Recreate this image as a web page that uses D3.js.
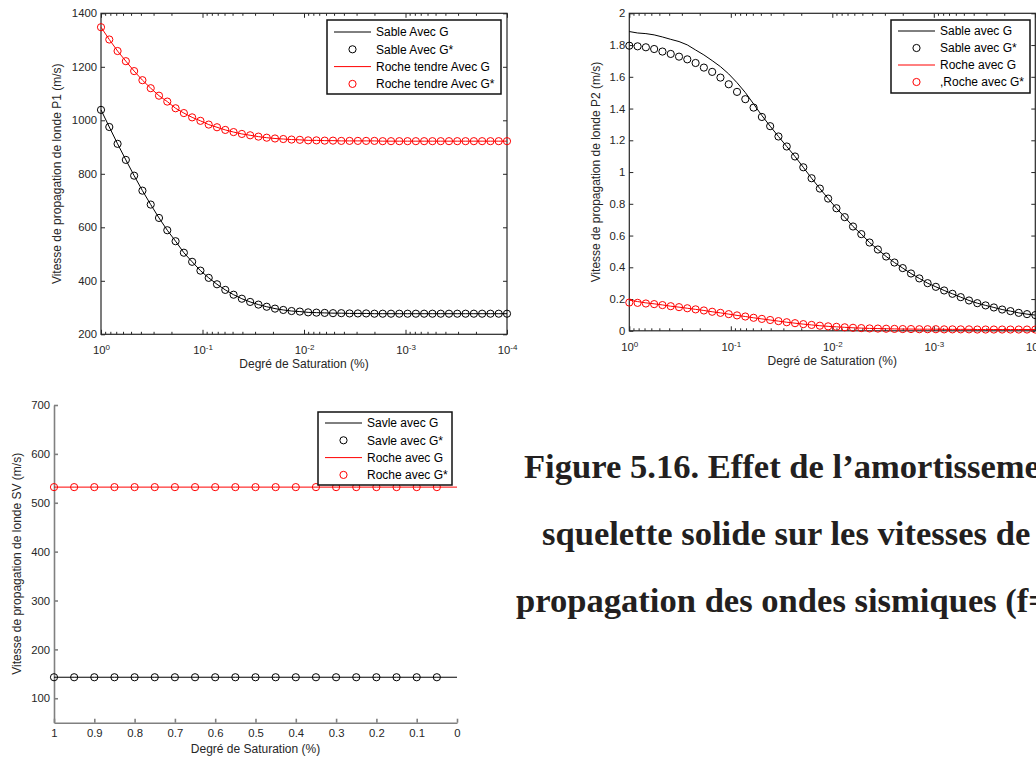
<!DOCTYPE html>
<html>
<head>
<meta charset="utf-8">
<script src="https://cdn.jsdelivr.net/npm/d3@7"></script>
<style>
  body { margin: 0; background: #fff; }
  svg { display: block; font-family: "Liberation Sans", Arial, sans-serif; }
  .ax path, .ax line { stroke: #262626; }
  .ax text { fill: #262626; font-size: 11.3px; }
  .gray path, .gray line { stroke: #808080; stroke-width: 1.6; }
  .lbl { fill: #262626; font-size: 12px; }
</style>
</head>
<body>
<svg id="fig" width="1036" height="760"></svg>
<script>
/** DATA **/
// Degré de saturation (log-spaced, 1 -> 1e-4), shared by the two top panels
const satLog = [1, 0.8286, 0.6866, 0.5690, 0.4715, 0.3907, 0.3237, 0.2683, 0.2223, 0.1842,
  0.1526, 0.1265, 0.1048, 0.08685, 0.07197, 0.05964, 0.04942, 0.04095, 0.03393, 0.02812,
  0.02330, 0.01931, 0.01600, 0.01326, 0.01099, 0.009103, 0.007543, 0.006251, 0.005180, 0.004292,
  0.003556, 0.002947, 0.002442, 0.002024, 0.001677, 0.001389, 0.001151, 0.0009541, 0.0007906, 0.0006551,
  0.0005429, 0.0004498, 0.0003728, 0.0003089, 0.0002560, 0.0002121, 0.0001758, 0.0001456, 0.0001207, 0.0001];
const decades = [1, 0.1, 0.01, 0.001, 0.0001];
const decadeExp = ['0', '-1', '-2', '-3', '-4'];
const minorMult = [2, 3, 4, 5, 6, 7, 8, 9];

// Onde P1
const p1Roche = [1348, 1302, 1259, 1221, 1184, 1150, 1120, 1092, 1070, 1045,
  1027, 1011, 998, 984, 974, 964, 956, 949, 944, 939,
  935, 932, 930, 928, 927, 925, 925, 924, 924, 923,
  923, 923, 923, 923, 922, 922, 922, 922, 922, 922,
  922, 922, 922, 922, 922, 922, 922, 922, 922, 922];
const p1Sable = [1039, 975, 912, 852, 793, 737, 685, 635, 589, 548,
  505, 471, 438, 411, 387, 366, 348, 333, 321, 311,
  303, 296, 291, 287, 285, 282, 281, 280, 279, 279,
  278, 278, 278, 277, 277, 277, 277, 277, 277, 277,
  277, 277, 277, 277, 277, 277, 277, 277, 277, 277];
const p1Ticks = [200, 400, 600, 800, 1000, 1200, 1400];

// Onde P2
const p2SableG = [1.885, 1.876, 1.872, 1.864, 1.851, 1.836, 1.822, 1.801, 1.769, 1.738,
  1.702, 1.664, 1.618, 1.563, 1.501, 1.429, 1.356, 1.289, 1.224, 1.161,
  1.098, 1.030, 0.961, 0.896, 0.833, 0.772, 0.716, 0.657, 0.609, 0.556,
  0.512, 0.468, 0.430, 0.395, 0.361, 0.330, 0.300, 0.277, 0.254, 0.233,
  0.212, 0.191, 0.174, 0.160, 0.147, 0.134, 0.124, 0.113, 0.105, 0.099];
const p2SableGs = [1.796, 1.792, 1.786, 1.775, 1.759, 1.744, 1.727, 1.710, 1.687, 1.658,
  1.631, 1.595, 1.553, 1.505, 1.459, 1.406, 1.347, 1.289, 1.224, 1.161,
  1.098, 1.030, 0.961, 0.896, 0.833, 0.772, 0.716, 0.657, 0.609, 0.556,
  0.512, 0.468, 0.430, 0.395, 0.361, 0.330, 0.300, 0.277, 0.254, 0.233,
  0.212, 0.191, 0.174, 0.160, 0.147, 0.134, 0.124, 0.113, 0.105, 0.099];
const p2RocheG = [0.193, 0.184, 0.176, 0.170, 0.163, 0.155, 0.149, 0.142, 0.135, 0.128,
  0.120, 0.113, 0.105, 0.097, 0.090, 0.082, 0.075, 0.068, 0.061, 0.054,
  0.048, 0.042, 0.037, 0.032, 0.028, 0.025, 0.022, 0.019, 0.017, 0.015,
  0.014, 0.013, 0.012, 0.011, 0.011, 0.010, 0.010, 0.010, 0.009, 0.009,
  0.009, 0.009, 0.008, 0.008, 0.008, 0.008, 0.008, 0.008, 0.008, 0.008];
const p2RocheGs = [0.178, 0.176, 0.172, 0.168, 0.162, 0.155, 0.149, 0.142, 0.135, 0.128,
  0.120, 0.113, 0.105, 0.097, 0.090, 0.082, 0.075, 0.068, 0.061, 0.054,
  0.048, 0.042, 0.037, 0.032, 0.028, 0.025, 0.022, 0.019, 0.017, 0.015,
  0.014, 0.013, 0.012, 0.011, 0.011, 0.010, 0.010, 0.010, 0.009, 0.009,
  0.009, 0.009, 0.008, 0.008, 0.008, 0.008, 0.008, 0.008, 0.008, 0.008];
const p2Ticks = [0, 0.2, 0.4, 0.6, 0.8, 1, 1.2, 1.4, 1.6, 1.8, 2];

// Onde SV (linear saturation axis)
const satLin = [1, 0.95, 0.9, 0.85, 0.8, 0.75, 0.7, 0.65, 0.6, 0.55,
  0.5, 0.45, 0.4, 0.35, 0.3, 0.25, 0.2, 0.15, 0.1, 0.05, 0];
const svRoche = [532, 532, 532, 532, 532, 532, 532, 532, 532, 532,
  532, 532, 532, 532, 532, 532, 532, 532, 532, 532, 532];
const svSable = [143, 143, 143, 143, 143, 143, 143, 143, 143, 143,
  143, 143, 143, 143, 143, 143, 143, 143, 143, 143, 143];
const svMarkerCount = 20; // markers stop at 0.05, lines run to 0
const svTicksY = [100, 200, 300, 400, 500, 600, 700];
const svTicksX = [1, 0.9, 0.8, 0.7, 0.6, 0.5, 0.4, 0.3, 0.2, 0.1, 0];

const caption = [
  'Figure 5.16. Effet de l\u2019amortissement du',
  'squelette solide sur les vitesses de',
  'propagation des ondes sismiques (f='
];

const RED = '#ff0000';
const BLACK = '#000000';

const svg = d3.select('#fig');
svg.append('rect').attr('width', 1036).attr('height', 760).attr('fill', '#fff');

/** helpers **/
function drawSeries (g, x, y, xs, line, markers, color, nMarkers) {
  const pts = line.map((v, i) => [xs[i], v]);
  g.append('path')
    .datum(pts)
    .attr('fill', 'none')
    .attr('stroke', color)
    .attr('stroke-width', 1)
    .attr('d', d3.line().x(d => x(d[0])).y(d => y(d[1])));

  const mk = markers.slice(0, nMarkers || markers.length).map((v, i) => [xs[i], v]);
  g.selectAll(null)
    .data(mk)
    .enter().append('circle')
    .attr('cx', d => x(d[0]))
    .attr('cy', d => y(d[1]))
    .attr('r', 3.6)
    .attr('fill', 'none')
    .attr('stroke', color)
    .attr('stroke-width', 1);
}

function drawLegend (box, entries) {
  const g = svg.append('g');
  g.append('rect')
    .attr('x', box.x).attr('y', box.y)
    .attr('width', box.w).attr('height', box.h)
    .attr('fill', '#fff')
    .attr('stroke', '#111')
    .attr('stroke-width', 1.5);
  entries.forEach((e, i) => {
    const cy = box.row0 + i * box.step;
    if (e.kind === 'line') {
      g.append('line')
        .attr('x1', box.x + 7).attr('x2', box.x + 44)
        .attr('y1', cy).attr('y2', cy)
        .attr('stroke', e.color).attr('stroke-width', 1);
    } else {
      g.append('circle')
        .attr('cx', box.x + 25.5).attr('cy', cy).attr('r', 3.6)
        .attr('fill', 'none').attr('stroke', e.color);
    }
    g.append('text')
      .attr('x', box.x + 49).attr('y', cy + 4.3)
      .attr('font-size', '12px')
      .attr('fill', '#000')
      .text(e.label);
  });
}

function drawLogPanel (p) {
  const x = d3.scaleLog().domain([1, 0.0001]).range([p.x0, p.x1]);
  const y = d3.scaleLinear().domain(p.yDomain).range([p.yb, p.yt]);
  const g = svg.append('g');

  // axes box
  g.append('rect')
    .attr('x', p.x0).attr('y', p.yt)
    .attr('width', p.x1 - p.x0).attr('height', p.yb - p.yt)
    .attr('fill', 'none').attr('stroke', '#262626').attr('stroke-width', 1.2);

  // y ticks, left with labels and right without
  const yl = g.append('g').attr('class', 'ax')
    .attr('transform', `translate(${p.x0},0)`)
    .call(d3.axisLeft(y).tickValues(p.yTicks).tickSizeInner(-4).tickSizeOuter(0)
      .tickPadding(4).tickFormat(d3.format('~g')));
  yl.select('.domain').remove();
  const yr = g.append('g').attr('class', 'ax')
    .attr('transform', `translate(${p.x1},0)`)
    .call(d3.axisRight(y).tickValues(p.yTicks).tickSizeInner(-4).tickSizeOuter(0).tickFormat(''));
  yr.select('.domain').remove();

  // x decades, 10^n labels
  const xb = g.append('g').attr('class', 'ax')
    .attr('transform', `translate(0,${p.yb})`)
    .call(d3.axisBottom(x).tickValues(decades).tickSizeInner(-4.5).tickSizeOuter(0).tickPadding(12));
  xb.select('.domain').remove();
  xb.selectAll('.tick text').each(function (d, i) {
    const t = d3.select(this);
    t.text('10');
    t.append('tspan').attr('dy', '-0.5em').attr('font-size', '8px').text(decadeExp[i]);
  });
  const xt = g.append('g').attr('class', 'ax')
    .attr('transform', `translate(0,${p.yt})`)
    .call(d3.axisTop(x).tickValues(decades).tickSizeInner(-4.5).tickSizeOuter(0).tickFormat(''));
  xt.select('.domain').remove();

  // minor log ticks top and bottom
  const minors = [];
  decades.slice(1).forEach(dec => minorMult.forEach(m => minors.push(m * dec)));
  [[p.yb, -2.5], [p.yt, 2.5]].forEach(([y0, len]) => {
    g.selectAll(null).data(minors).enter().append('line')
      .attr('x1', d => x(d)).attr('x2', d => x(d))
      .attr('y1', y0).attr('y2', y0 + len)
      .attr('stroke', '#262626').attr('stroke-width', 1);
  });

  // series
  p.series.forEach(s => drawSeries(g, x, y, satLog, s.line, s.markers, s.color));

  // axis labels
  g.append('text').attr('class', 'lbl')
    .attr('text-anchor', 'middle')
    .attr('x', (p.x0 + p.x1) / 2).attr('y', p.xLabelY)
    .text('Degré de Saturation (%)');
  g.append('text').attr('class', 'lbl')
    .attr('text-anchor', 'middle')
    .attr('transform', `translate(${p.yLabelX},${(p.yt + p.yb) / 2}) rotate(-90)`)
    .text(p.yLabel);
}

/** TOP LEFT: P1 **/
drawLogPanel({
  x0: 101, x1: 507, yt: 13.3, yb: 334.3,
  yDomain: [200, 1400], yTicks: p1Ticks,
  yLabel: 'Vitesse de propagation de londe P1 (m/s)', yLabelX: 61, xLabelY: 368,
  series: [
    { line: p1Sable, markers: p1Sable, color: BLACK },
    { line: p1Roche, markers: p1Roche, color: RED }
  ]
});
drawLegend({ x: 327, y: 20, w: 174, h: 74, row0: 32, step: 17.3 }, [
  { label: 'Sable Avec G', color: BLACK, kind: 'line' },
  { label: 'Sable Avec G*', color: BLACK, kind: 'circle' },
  { label: 'Roche tendre Avec G', color: RED, kind: 'line' },
  { label: 'Roche tendre Avec G*', color: RED, kind: 'circle' }
]);

/** TOP RIGHT: P2 **/
drawLogPanel({
  x0: 629.3, x1: 1035.3, yt: 13.3, yb: 330.8,
  yDomain: [0, 2], yTicks: p2Ticks,
  yLabel: 'Vitesse de propagation de londe P2 (m/s)', yLabelX: 600, xLabelY: 365,
  series: [
    { line: p2SableG, markers: p2SableGs, color: BLACK },
    { line: p2RocheG, markers: p2RocheGs, color: RED }
  ]
});
drawLegend({ x: 891, y: 20, w: 139, h: 73, row0: 31, step: 17 }, [
  { label: 'Sable avec G', color: BLACK, kind: 'line' },
  { label: 'Sable avec G*', color: BLACK, kind: 'circle' },
  { label: 'Roche avec G', color: RED, kind: 'line' },
  { label: ',Roche avec G*', color: RED, kind: 'circle' }
]);

/** BOTTOM: SV **/
{
  const x = d3.scaleLinear().domain([1, 0]).range([54, 457]);
  const y = d3.scaleLinear().domain([50, 700]).range([722.7, 405]);
  const g = svg.append('g');

  g.append('g').attr('class', 'ax gray')
    .attr('transform', 'translate(54,0)')
    .call(d3.axisLeft(y).tickValues(svTicksY).tickSizeInner(-4).tickSizeOuter(0)
      .tickPadding(4).tickFormat(d3.format('~g')));
  g.append('g').attr('class', 'ax gray')
    .attr('transform', 'translate(0,722.7)')
    .call(d3.axisBottom(x).tickValues(svTicksX).tickSizeInner(-4).tickSizeOuter(0)
      .tickPadding(6).tickFormat(d3.format('~g')));

  drawSeries(g, x, y, satLin, svSable, svSable, BLACK, svMarkerCount);
  drawSeries(g, x, y, satLin, svRoche, svRoche, RED, svMarkerCount);

  g.append('text').attr('class', 'lbl')
    .attr('text-anchor', 'middle')
    .attr('x', 255.5).attr('y', 753)
    .text('Degré de Saturation (%)');
  g.append('text').attr('class', 'lbl')
    .attr('text-anchor', 'middle')
    .attr('transform', 'translate(21,563.8) rotate(-90)')
    .text('Vitesse de propagation de londe SV (m/s)');
}
drawLegend({ x: 318, y: 412, w: 134, h: 73, row0: 423, step: 17.3 }, [
  { label: 'Savle avec G', color: BLACK, kind: 'line' },
  { label: 'Savle avec G*', color: BLACK, kind: 'circle' },
  { label: 'Roche avec G', color: RED, kind: 'line' },
  { label: 'Roche avec G*', color: RED, kind: 'circle' }
]);

/** CAPTION **/
const capX = [524, 542, 516];
const capY = [478, 545, 612];
svg.append('g')
  .selectAll('text')
  .data(caption)
  .enter().append('text')
  .attr('x', (d, i) => capX[i])
  .attr('y', (d, i) => capY[i])
  .attr('font-family', '"Liberation Serif", "Times New Roman", serif')
  .attr('font-weight', 'bold')
  .attr('font-size', '34.6px')
  .attr('fill', '#231f20')
  .text(d => d);
</script>
</body>
</html>
